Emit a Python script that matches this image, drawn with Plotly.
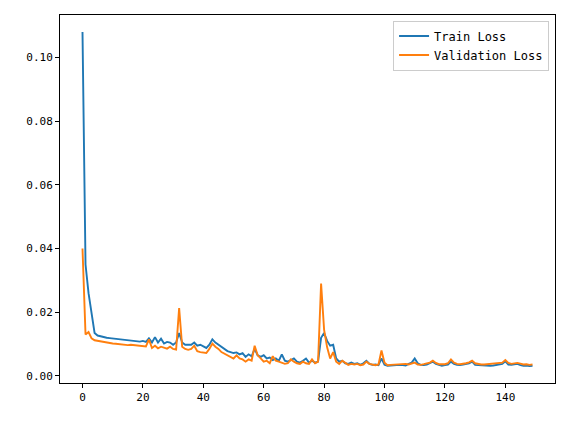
import plotly.graph_objects as go

epochs = list(range(150))

train_loss = [
    0.108, 0.035, 0.026, 0.019, 0.0135, 0.0127, 0.0124, 0.0122, 0.012, 0.0119,
    0.0118, 0.0117, 0.0116, 0.0115, 0.0115, 0.0114, 0.0113, 0.0112, 0.011, 0.0108,
    0.011, 0.0107, 0.0118, 0.0105, 0.0122, 0.0105, 0.0117, 0.0102, 0.0107, 0.0105,
    0.0098, 0.0105, 0.0135, 0.0105, 0.0098, 0.0097, 0.0098, 0.0105, 0.0095, 0.0098,
    0.0092, 0.0088, 0.0098, 0.0115, 0.0105, 0.0098, 0.0092, 0.0085, 0.0078, 0.0075,
    0.0072, 0.0074, 0.0068, 0.0072, 0.006, 0.0068, 0.0062, 0.0085, 0.0065, 0.006,
    0.0065, 0.0055, 0.0058, 0.005, 0.0055, 0.0048, 0.0068, 0.0048, 0.0045, 0.005,
    0.0055, 0.0045, 0.0042, 0.0048, 0.0055, 0.0042, 0.0048, 0.0042, 0.0045, 0.012,
    0.0135, 0.011, 0.0095, 0.0098, 0.0055, 0.0045, 0.0048, 0.004, 0.0038, 0.0042,
    0.0038, 0.004, 0.0035, 0.004, 0.0048, 0.0038, 0.0035, 0.0036, 0.0034, 0.0055,
    0.0035, 0.0032, 0.0033, 0.0034, 0.0033, 0.0035, 0.0034, 0.0033, 0.0038, 0.0042,
    0.0055, 0.004, 0.0035, 0.0034, 0.0036, 0.004, 0.0045, 0.0038, 0.0034, 0.0032,
    0.0034, 0.0036, 0.0045, 0.0038, 0.0035, 0.0034, 0.0036, 0.0038, 0.004, 0.0045,
    0.0035, 0.0034, 0.0033, 0.0032, 0.0033, 0.0032, 0.0033, 0.0034, 0.0036, 0.0038,
    0.0046, 0.0036, 0.0035, 0.0036, 0.0038, 0.0034, 0.0032, 0.0033, 0.0031, 0.0032,
]

val_loss = [
    0.040, 0.013, 0.0138, 0.0118, 0.0112, 0.011, 0.0108, 0.0106, 0.0105, 0.0104,
    0.0102, 0.0101, 0.01, 0.0098, 0.0097, 0.0097, 0.0098, 0.0097, 0.0096, 0.0094,
    0.0095, 0.0093, 0.0115, 0.0088, 0.0095, 0.0087, 0.0092, 0.0088, 0.0086, 0.0092,
    0.0085, 0.0083, 0.0213, 0.0092, 0.0085, 0.0082, 0.0085, 0.0095, 0.0078, 0.0075,
    0.0073, 0.0072, 0.0085, 0.0102, 0.0092, 0.0085, 0.0075, 0.007, 0.0065, 0.006,
    0.0055, 0.0065, 0.0055, 0.0052, 0.0045, 0.0052, 0.0048, 0.0095, 0.0065, 0.0055,
    0.0045, 0.0048, 0.004, 0.0062, 0.0048, 0.0045, 0.0042, 0.0038, 0.004, 0.0052,
    0.0045, 0.004, 0.0038, 0.0045, 0.004, 0.0038, 0.0052, 0.004, 0.0045, 0.029,
    0.0145, 0.009, 0.0055, 0.0075, 0.0045, 0.0038, 0.0048, 0.004, 0.0035, 0.0038,
    0.0036, 0.0038, 0.0034, 0.0036, 0.0045, 0.0038, 0.0035, 0.0034, 0.0036, 0.008,
    0.0042, 0.0034, 0.0035, 0.0036, 0.0036, 0.0038, 0.0037, 0.0038, 0.0036, 0.0038,
    0.0042, 0.0036, 0.0035, 0.0037, 0.004, 0.0042, 0.0048, 0.0041, 0.0037, 0.0036,
    0.0037, 0.004, 0.0052, 0.0042, 0.0038, 0.0037, 0.0038, 0.004, 0.0043, 0.0048,
    0.004, 0.0037, 0.0036, 0.0036, 0.0037, 0.0036, 0.0037, 0.0038, 0.004, 0.0042,
    0.005, 0.0041, 0.0038, 0.004, 0.0041, 0.0039, 0.0036, 0.0037, 0.0035, 0.0036,
]

x_ticks = [0, 20, 40, 60, 80, 100, 120, 140]
y_ticks = [0.0, 0.02, 0.04, 0.06, 0.08, 0.10]
y_tick_text = ['0.00', '0.02', '0.04', '0.06', '0.08', '0.10']

fig = go.Figure()
fig.add_trace(go.Scatter(x=epochs, y=train_loss, mode='lines', name='Train Loss',
                         line=dict(color='#1f77b4', width=1.9)))
fig.add_trace(go.Scatter(x=epochs, y=val_loss, mode='lines', name='Validation Loss',
                         line=dict(color='#ff7f0e', width=1.9)))

axis_style = dict(showline=True, linecolor='black', linewidth=1, mirror=True,
                  ticks='outside', ticklen=4, tickcolor='black', showgrid=False,
                  zeroline=False)

fig.update_layout(
    width=576, height=424,
    margin=dict(l=60, r=21, t=15, b=41),
    paper_bgcolor='white', plot_bgcolor='white',
    font=dict(family='DejaVu Sans Mono', size=11, color='black'),
    xaxis=dict(range=[-7.45, 156.45], tickvals=x_ticks, **axis_style),
    yaxis=dict(range=[-0.0022, 0.1133], tickvals=y_ticks, ticktext=y_tick_text, **axis_style),
    legend=dict(x=0.988, y=0.985, xanchor='right', yanchor='top',
                bordercolor='#cccccc', borderwidth=1, bgcolor='white',
                itemwidth=30, font=dict(size=12)),
)

# drop the browser's default 8px body margin so the figure sits at the corner
fig.write_html("out.html", config={'displayModeBar': False},
               post_script="document.body.style.margin='0';")
